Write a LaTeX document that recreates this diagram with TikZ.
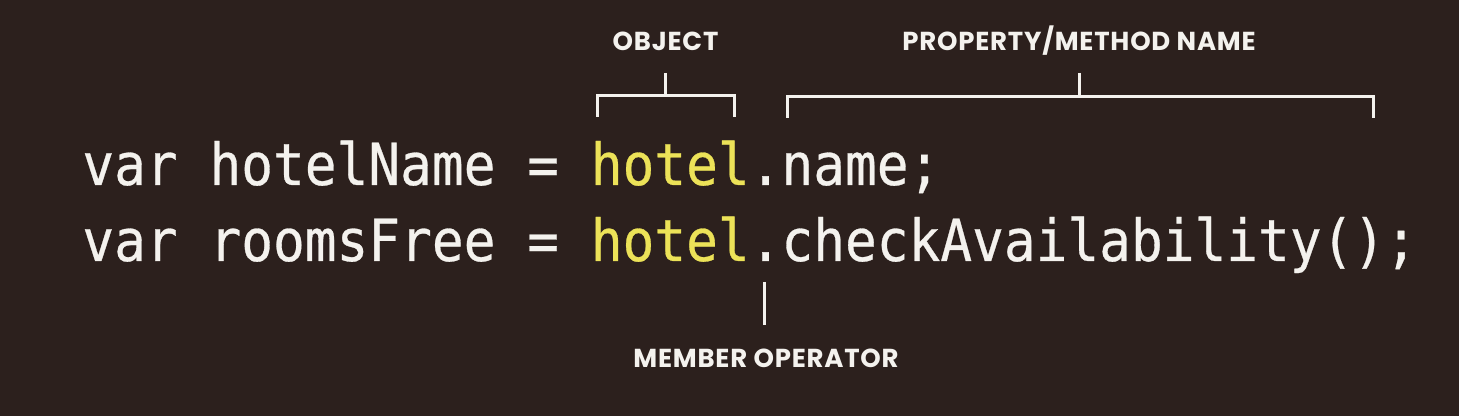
\documentclass[tikz,border=0pt]{standalone}
\usepackage{fontspec}
\setmonofont[FakeStretch=0.91,FakeBold=0.5]{DejaVu Sans Mono}
\newfontfamily\tagfont[LetterSpace=3]{Poppins}
\definecolor{bgbrown}{RGB}{44,32,29}
\definecolor{codewhite}{RGB}{244,242,238}
\definecolor{objyellow}{RGB}{236,226,88}
\tikzset{
  codeline/.style={anchor=base west, inner sep=0pt, text=codewhite,
    font=\ttfamily\fontsize{29}{29}\selectfont},
  tag/.style={anchor=base, inner sep=0pt, text=codewhite,
    font=\tagfont\bfseries\fontsize{13}{13}\selectfont},
  brace/.style={draw=codewhite, line width=1.5pt}
}
\begin{document}
\begin{tikzpicture}[x=0.5pt,y=0.5pt,yscale=-1]
%set diagram size 1459 x 416
\fill[bgbrown] (0,0) rectangle (1459,416);

% Code lines
\node[codeline] (line1) at (82,185) {var hotelName = \textcolor{objyellow}{hotel}.name;};
\node[codeline] (line2) at (82,261) {var roomsFree = \textcolor{objyellow}{hotel}.checkAvailability();};

% Text Node
\node[tag] (obj) at (665.5,51) {OBJECT};
% Text Node
\node[tag] (prop) at (1079,51) {PROPERTY/METHOD NAME};
% Text Node
\node[tag] (member) at (766,367) {MEMBER OPERATOR};

% Bracket: object
\coordinate (objL) at (597,117);
\coordinate (objR) at (734,117);
\coordinate (objM) at (665.5,73);
\draw[brace] (objL) -- (objL |- 0,96) -- (objR |- 0,96) -- (objR);
\draw[brace] (objM) -- (objM |- 0,96);

% Bracket: property/method name
\coordinate (propL) at (787,118);
\coordinate (propR) at (1373,118);
\coordinate (propM) at (1079,73);
\draw[brace] (propL) -- (propL |- 0,97) -- (propR |- 0,97) -- (propR);
\draw[brace] (propM) -- (propM |- 0,97);

% Straight Lines: member operator
\coordinate (dotT) at (764,282);
\coordinate (dotB) at (764,325);
\draw[brace] (dotT) -- (dotB);

\end{tikzpicture}
\end{document}
